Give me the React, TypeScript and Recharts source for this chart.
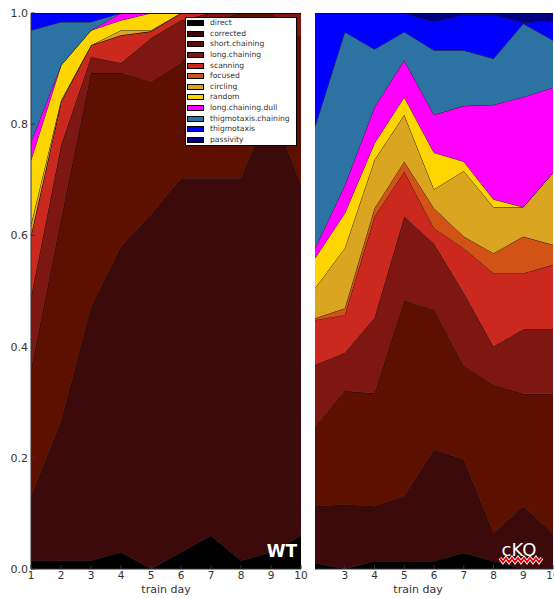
import { AreaChart, Area, XAxis, YAxis, Legend } from "recharts";

// search strategies, bottom of the stack first
const strategies = [
  "direct",
  "corrected",
  "short.chaining",
  "long.chaining",
  "scanning",
  "focused",
  "circling",
  "random",
  "long.chaining.dull",
  "thigmotaxis.chaining",
  "thigmotaxis",
  "passivity",
];
const strategyColors = [
  "#000000",
  "#3c0a0a",
  "#5e1000",
  "#7e1712",
  "#cb291e",
  "#d25315",
  "#daa520",
  "#ffd500",
  "#ff00ff",
  "#2c72a3",
  "#0000ff",
  "#000080",
];

// WT, train days 1-10 (fraction of trials per strategy)
const wtDays = [1, 2, 3, 4, 5, 6, 7, 8, 9, 10];
const wtDirect = [0.015, 0.015, 0.015, 0.03, 0, 0.03, 0.06, 0.015, 0.03, 0.06];
const wtCorrected = [0.115, 0.25, 0.455, 0.55, 0.637, 0.673, 0.643, 0.688, 0.8, 0.63];
const wtShortChaining = [0.228, 0.365, 0.422, 0.312, 0.239, 0.207, 0.282, 0.297, 0.17, 0.267];
const wtLongChaining = [0.131, 0.132, 0.029, 0.018, 0.079, 0.077, 0.015, 0, 0, 0.043];
const wtScanning = [0.111, 0.078, 0.021, 0.05, 0.012, 0.013, 0, 0, 0, 0];
const wtFocused = [0, 0, 0, 0, 0, 0, 0, 0, 0, 0];
const wtCircling = [0.02, 0.003, 0, 0.009, 0.002, 0, 0, 0, 0, 0];
const wtRandom = [0.116, 0.063, 0.027, 0.018, 0.031, 0, 0, 0, 0, 0];
const wtLongChainingDull = [0.033, 0, 0, 0.013, 0, 0, 0, 0, 0, 0];
const wtThigmotaxisChaining = [0.2, 0.078, 0.015, 0, 0, 0, 0, 0, 0, 0];
const wtThigmotaxis = [0.031, 0.016, 0.016, 0, 0, 0, 0, 0, 0, 0];
const wtPassivity = [0, 0, 0, 0, 0, 0, 0, 0, 0, 0];

// cKO, train days 2-10
const koDays = [2, 3, 4, 5, 6, 7, 8, 9, 10];
const koDirect = [0.011, 0, 0.014, 0.014, 0.014, 0.029, 0.014, 0, 0];
const koCorrected = [0.102, 0.116, 0.099, 0.117, 0.2, 0.168, 0.05, 0.113, 0.064];
const koShortChaining = [0.143, 0.204, 0.203, 0.352, 0.252, 0.168, 0.267, 0.202, 0.251];
const koLongChaining = [0.111, 0.069, 0.136, 0.151, 0.119, 0.132, 0.069, 0.116, 0.116];
const koScanning = [0.081, 0.068, 0.182, 0.081, 0.028, 0.08, 0.132, 0.101, 0.116];
const koFocused = [0.003, 0.012, 0.015, 0.018, 0.036, 0.021, 0.036, 0.066, 0.036];
const koCircling = [0.054, 0.108, 0.087, 0.084, 0.034, 0.118, 0.083, 0.053, 0.13];
const koRandom = [0.054, 0.063, 0.03, 0.032, 0.066, 0.017, 0.014, 0, 0];
const koLongChainingDull = [0.018, 0.05, 0.065, 0.066, 0.068, 0.1, 0.17, 0.198, 0.153];
const koThigmotaxisChaining = [0.219, 0.276, 0.104, 0.051, 0.116, 0.1, 0.083, 0.132, 0.085];
const koThigmotaxis = [0.204, 0.034, 0.065, 0.034, 0.051, 0.064, 0.079, 0.002, 0.035];
const koPassivity = [0, 0, 0, 0, 0.016, 0.003, 0.003, 0.017, 0.014];

const yTicks = [0, 0.2, 0.4, 0.6, 0.8, 1.0];
const wtDayTicks = [1, 2, 3, 4, 5, 6, 7, 8, 9, 10];
const koDayTicks = [3, 4, 5, 6, 7, 8, 9, 10];

const wtSeries = [
  wtDirect, wtCorrected, wtShortChaining, wtLongChaining, wtScanning, wtFocused,
  wtCircling, wtRandom, wtLongChainingDull, wtThigmotaxisChaining, wtThigmotaxis, wtPassivity,
];
const koSeries = [
  koDirect, koCorrected, koShortChaining, koLongChaining, koScanning, koFocused,
  koCircling, koRandom, koLongChainingDull, koThigmotaxisChaining, koThigmotaxis, koPassivity,
];

function buildRows(days: number[], series: number[][]) {
  return days.map((day, i) => {
    const row: Record<string, number> = { day };
    strategies.forEach((s, k) => {
      row[s] = series[k][i];
    });
    return row;
  });
}

const wtRows = buildRows(wtDays, wtSeries);
const koRows = buildRows(koDays, koSeries);

const FONT = "'DejaVu Sans', sans-serif";
const SPINE = "#333";
const TICK = 4;

// matplotlib-style ticks pointing into the plot
function LeftTick({ x, y, payload, showLabel }: any) {
  const edge = x + 3;
  return (
    <g>
      <line x1={edge} x2={edge + TICK} y1={y} y2={y} stroke={SPINE} />
      {showLabel && (
        <text x={x} y={y} dy={4} textAnchor="end" fontFamily={FONT} fontSize={11} fill="#333">
          {Number(payload.value).toFixed(1)}
        </text>
      )}
    </g>
  );
}

function RightTick({ x, y }: any) {
  return <line x1={x - TICK} x2={x} y1={y} y2={y} stroke={SPINE} />;
}

function BottomTick({ x, y, payload }: any) {
  return (
    <g>
      <line x1={x} x2={x} y1={y - TICK} y2={y} stroke={SPINE} />
      <text x={x} y={y + 10} textAnchor="middle" fontFamily={FONT} fontSize={10.5} fill="#333">
        {payload.value}
      </text>
    </g>
  );
}

function TopTick({ x, y }: any) {
  return <line x1={x} x2={x} y1={y} y2={y + TICK} stroke={SPINE} />;
}

function StrategyLegend() {
  return (
    <div style={{ background: "#fff", border: "1px solid #000", width: 110, fontFamily: FONT }}>
      {strategies.map((s, i) => (
        <div key={s} style={{ display: "flex", alignItems: "center", height: 10.6 }}>
          <span
            style={{
              display: "inline-block",
              width: 15,
              height: 4,
              marginLeft: 1,
              marginRight: 6,
              background: strategyColors[i],
              border: "1px solid #000",
            }}
          />
          <span style={{ fontSize: 7.6, color: "#333", lineHeight: "10px" }}>{s}</span>
        </div>
      ))}
    </div>
  );
}

type PanelProps = {
  rows: Record<string, number>[];
  dayTicks: number[];
  dayDomain: [number, number];
  width: number;
  marginLeft: number;
  marginRight: number;
  yAxisWidth: number;
  showYLabels: boolean;
  showLegend: boolean;
};

function StackPanel(p: PanelProps) {
  return (
    <AreaChart
      width={p.width}
      height={599}
      data={p.rows}
      margin={{ top: 13, right: p.marginRight, left: p.marginLeft, bottom: 0 }}
    >
      <XAxis
        dataKey="day"
        type="number"
        domain={p.dayDomain}
        ticks={p.dayTicks}
        interval={0}
        allowDataOverflow
        height={30}
        tickSize={0}
        tickMargin={0}
        tickLine={false}
        axisLine={{ stroke: SPINE }}
        tick={(t: any) => <BottomTick {...t} />}
      />
      <XAxis
        xAxisId="top"
        orientation="top"
        dataKey="day"
        type="number"
        domain={p.dayDomain}
        ticks={p.dayTicks}
        interval={0}
        allowDataOverflow
        height={0}
        tickSize={0}
        tickMargin={0}
        tickLine={false}
        axisLine={{ stroke: SPINE }}
        tick={(t: any) => <TopTick {...t} />}
      />
      <YAxis
        type="number"
        domain={[0, 1]}
        ticks={yTicks}
        interval={0}
        allowDataOverflow
        width={p.yAxisWidth}
        tickSize={0}
        tickMargin={3}
        tickLine={false}
        axisLine={{ stroke: SPINE }}
        tick={(t: any) => <LeftTick {...t} showLabel={p.showYLabels} />}
      />
      <YAxis
        yAxisId="right"
        orientation="right"
        type="number"
        domain={[0, 1]}
        ticks={yTicks}
        interval={0}
        allowDataOverflow
        width={0}
        tickSize={0}
        tickMargin={0}
        tickLine={false}
        axisLine={{ stroke: SPINE }}
        tick={(t: any) => <RightTick {...t} />}
      />
      {strategies.map((s, i) => (
        <Area
          key={s}
          type="linear"
          dataKey={s}
          stackId="strategy"
          stroke="#000"
          strokeWidth={0.8}
          fill={strategyColors[i]}
          fillOpacity={1}
          dot={false}
          activeDot={false}
          isAnimationActive={false}
        />
      ))}
      {p.showLegend && (
        <Legend
          layout="vertical"
          align="center"
          verticalAlign="middle"
          wrapperStyle={{ left: 185, top: 17, width: 112 }}
          content={() => <StrategyLegend />}
        />
      )}
    </AreaChart>
  );
}

function zigzag(x0: number, x1: number, y: number, step: number, amp: number) {
  let d = `M${x0},${y}`;
  let up = true;
  for (let x = x0 + step / 2; x <= x1; x += step / 2) {
    d += ` L${x},${up ? y + amp : y}`;
    up = !up;
  }
  return d;
}

export default function App() {
  return (
    <div
      style={{
        position: "fixed",
        left: 0,
        top: 0,
        width: 554,
        height: 599,
        overflow: "hidden",
        background: "#fff",
      }}
    >
      <div style={{ position: "absolute", left: 305, top: 0 }}>
        <StackPanel
          rows={koRows}
          dayTicks={koDayTicks}
          dayDomain={[2, 10]}
          width={260}
          marginLeft={10}
          marginRight={12}
          yAxisWidth={0}
          showYLabels={false}
          showLegend={false}
        />
      </div>
      <div style={{ position: "absolute", left: 0, top: 0 }}>
        <StackPanel
          rows={wtRows}
          dayTicks={wtDayTicks}
          dayDomain={[1, 10]}
          width={310}
          marginLeft={0}
          marginRight={9}
          yAxisWidth={31}
          showYLabels={true}
          showLegend={true}
        />
      </div>
      <svg
        width={554}
        height={599}
        style={{ position: "absolute", left: 0, top: 0, pointerEvents: "none" }}
      >
        <text x={166} y={593} textAnchor="middle" fontFamily={FONT} fontSize={11} fill="#333">
          train day
        </text>
        <text x={418} y={593} textAnchor="middle" fontFamily={FONT} fontSize={11} fill="#333">
          train day
        </text>
        <text x={297} y={557} textAnchor="end" fontFamily={FONT} fontSize={17} fontWeight="bold" fill="#fff">
          WT
        </text>
        <path d={zigzag(500, 542, 558, 6, 4)} fill="none" stroke="#fff" strokeWidth={3.5} />
        <path d={zigzag(500, 542, 558, 6, 4)} fill="none" stroke="#e8000a" strokeWidth={1.8} />
        <text x={519} y={556} textAnchor="middle" fontFamily={FONT} fontSize={18} fill="#fff">
          cKO
        </text>
      </svg>
    </div>
  );
}
